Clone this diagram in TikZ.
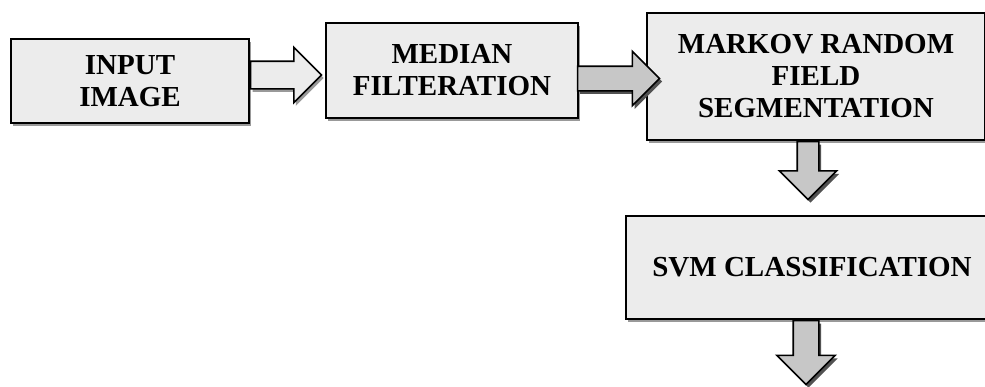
\documentclass[tikz,border=0pt]{standalone}
\usepackage{fontspec}
\setmainfont{Liberation Serif}
\usetikzlibrary{shapes.arrows,shadows}
\definecolor{boxfill}{gray}{0.925}
\definecolor{arrowfill}{gray}{0.78}
\colorlet{lightshadow}{black!40}
\colorlet{darkshadow}{black!68}

\begin{document}
\begin{tikzpicture}[x=0.5pt,y=-0.5pt,
    stage/.style={draw=black,line width=0.8pt,fill=boxfill,align=center,%
                  font=\bfseries\fontsize{14.5}{16}\selectfont,inner sep=0pt,%
                  drop shadow={shadow xshift=1pt,shadow yshift=-1.5pt,%
                               fill=lightshadow,opacity=1}},
    flow/.style={single arrow,draw=black,line width=0.8pt,%
                 single arrow tip angle=90,fill=#1},
    lightflow/.style={flow=boxfill,%
                      drop shadow={shadow xshift=1pt,shadow yshift=-1.5pt,%
                                   fill=lightshadow,opacity=1}},
    darkflow/.style={flow=arrowfill,%
                     drop shadow={shadow xshift=1.2pt,shadow yshift=-1.5pt,%
                                  fill=darkshadow,opacity=1}}
]
\useasboundingbox (0,0) rectangle (985,386);

\node[stage,minimum width=119pt,minimum height=42pt] (input) at (130,81)
     {INPUT\\IMAGE};
\node[stage,minimum width=126pt,minimum height=47.5pt] (median) at (452,70.5)
     {MEDIAN\\FILTERATION};
\node[stage,minimum width=169pt,minimum height=63.5pt] (mrf) at (816,76.5)
     {MARKOV RANDOM\\FIELD\\SEGMENTATION};
\node[stage,minimum width=186pt,minimum height=51.5pt] (svm) at (812,267.5)
     {SVM CLASSIFICATION};

\node[lightflow,anchor=tail,minimum height=35.5pt,inner sep=6.5pt,%
      single arrow head extend=7pt] (inmed) at ([yshift=3pt]input.east) {};
\node[darkflow,anchor=tail,minimum height=41pt,inner sep=5.75pt,%
      single arrow head extend=7.5pt] (medmrf)
      at ([xshift=-1pt,yshift=-4pt]median.east) {};
\node[darkflow,anchor=tail,shape border rotate=270,minimum height=29pt,%
      inner sep=5pt,single arrow head extend=9pt] (mrfsvm)
      at ([xshift=-4pt]mrf.south) {};
\node[darkflow,anchor=tail,shape border rotate=270,minimum height=32pt,%
      inner sep=6pt,single arrow head extend=8.25pt] (svmout)
      at ([xshift=-3pt]svm.south) {};

\end{tikzpicture}
\end{document}
